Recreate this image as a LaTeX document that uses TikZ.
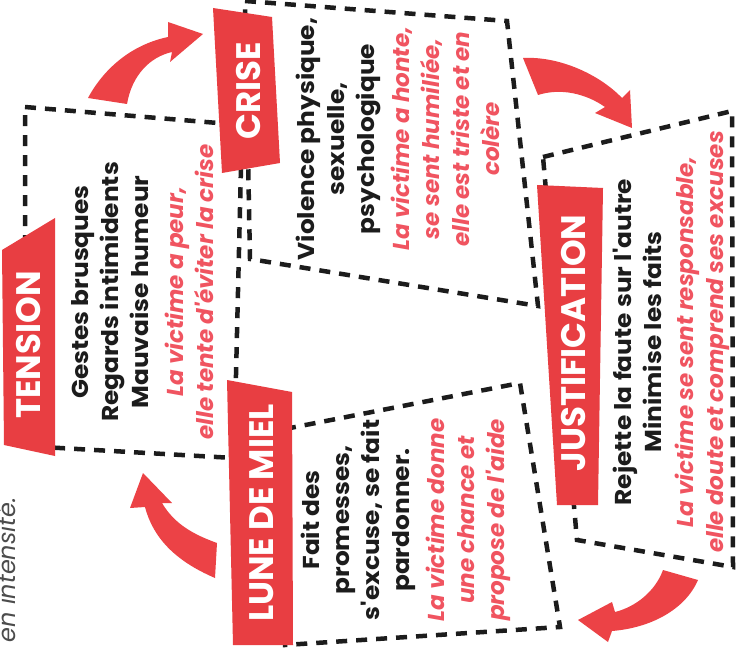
\documentclass[tikz,border=0pt]{standalone}
\usepackage{fontspec}
\setmainfont{Poppins}
\newfontfamily\blackfont[FakeStretch=1.08]{Poppins}
\newfontfamily\redfont{Poppins}
\definecolor{bannerred}{RGB}{232,62,66}
\definecolor{arrowred}{RGB}{236,66,70}
\definecolor{textred}{RGB}{240,84,96}
\definecolor{textblack}{RGB}{28,28,28}
\newcommand{\redline}[1]{{\color{textred}\redfont\fontsize{23}{30}\selectfont\bfseries\itshape #1}}
\begin{document}
\begin{tikzpicture}[x=1pt,y=-1pt,
  dashbox/.style={draw=textblack, line width=4.5pt, dash pattern=on 11pt off 9pt},
  banner/.style={fill=bannerred, draw=none},
  bannertext/.style={text=white, font=\bfseries\fontsize{34}{34}\selectfont, inner sep=0pt, rotate=90},
  bodytext/.style={align=center, inner sep=0pt, rotate=90, text=textblack, font=\blackfont\bfseries\fontsize{23}{30}\selectfont},
  arrowshape/.style={fill=arrowred, draw=none}]
\useasboundingbox (0,0) rectangle (736,655);
\fill[white] (0,0) rectangle (736,655);

% dashed boxes
\draw[dashbox] (25,107) coordinate (t1) -- (242,125) coordinate (t2) -- (234,458) coordinate (t3) -- (25,446) coordinate (t4) -- cycle;
\draw[dashbox] (245,1) coordinate (c1) -- (507,21) coordinate (c2) -- (538,306) coordinate (c3) -- (250,259) coordinate (c4) -- cycle;
\draw[dashbox] (543,157) coordinate (j1) -- (732,111) coordinate (j2) -- (733,567) coordinate (j3) -- (577,540) coordinate (j4) -- cycle;
\draw[dashbox] (285,429) coordinate (l1) -- (520,383) coordinate (l2) -- (560,627) coordinate (l3) -- (285,645) coordinate (l4) -- cycle;

% banners
\fill[banner] (2,250) -- (55,218) -- (55,456) -- (4,445) -- cycle;
\fill[banner] (213,8) -- (272,17) -- (280,163) -- (222,173) -- cycle;
\fill[banner] (537,185) -- (603,188) -- (598,505) -- (557,505) -- cycle;
\fill[banner] (227,380) -- (292,392) -- (293,645) -- (233,645) -- cycle;

\node[bannertext] (tension) at (29,345) {TENSION};
\node[bannertext] (crise) at (249,91) {CRISE};
\node[bannertext] (justif) at (574,343) {JUSTIFICATION};
\node[bannertext] (lune) at (262,513) {LUNE DE MIEL};

% arrows
\fill[arrowshape] (88,98) .. controls (103,70) and (130,45) .. (168,37) -- (168,22) -- (203,34) -- (170,62) -- (172,52) .. controls (150,57) and (132,75) .. (127,104) -- cycle;
\fill[arrowshape] (523,58) .. controls (560,56) and (600,75) .. (622,98) -- (630,90) -- (632,128) -- (595,113) -- (605,107) .. controls (585,93) and (560,88) .. (538,95) -- cycle;
\fill[arrowshape] (663,570) -- (698,580) .. controls (685,610) and (650,628) .. (612,631) -- (608,642) -- (578,620) -- (612,602) -- (615,612) .. controls (635,607) and (655,592) .. (663,570) -- cycle;
\fill[arrowshape] (143,473) -- (172,503) -- (162,503) .. controls (175,525) and (195,535) .. (217,543) -- (215,578) .. controls (185,565) and (155,545) .. (145,507) -- (130,508) -- cycle;

% texts
\node[bodytext] (ttext) at (143,292) {Gestes brusques\\Regards intimidents\\Mauvaise humeur\\[5pt]\redline{La victime a peur,}\\\redline{elle tente d'éviter la crise}};
\node[bodytext] (ctext) at (398,139) {Violence physique,\\sexuelle,\\psychologique\\[5pt]\redline{La victime a honte,}\\\redline{se sent humiliée,}\\\redline{elle est triste et en}\\\redline{colère}};
\node[bodytext] (jtext) at (671,342) {Rejette la faute sur l'autre\\Minimise les faits\\[2pt]\redline{La victime se sent responsable,}\\\redline{elle doute et comprend ses excuses}};
\node[bodytext] (ltext) at (406,520) {Fait des\\promesses,\\s'excuse, se fait\\pardonner.\\[5pt]\redline{La victime donne}\\\redline{une chance et}\\\redline{propose de l'aide}};

\node[rotate=90, anchor=base, inner sep=0pt, text=black!70, font=\itshape\fontsize{24}{24}\selectfont] (intens) at (16,570) {en intensité.};
\end{tikzpicture}
\end{document}
